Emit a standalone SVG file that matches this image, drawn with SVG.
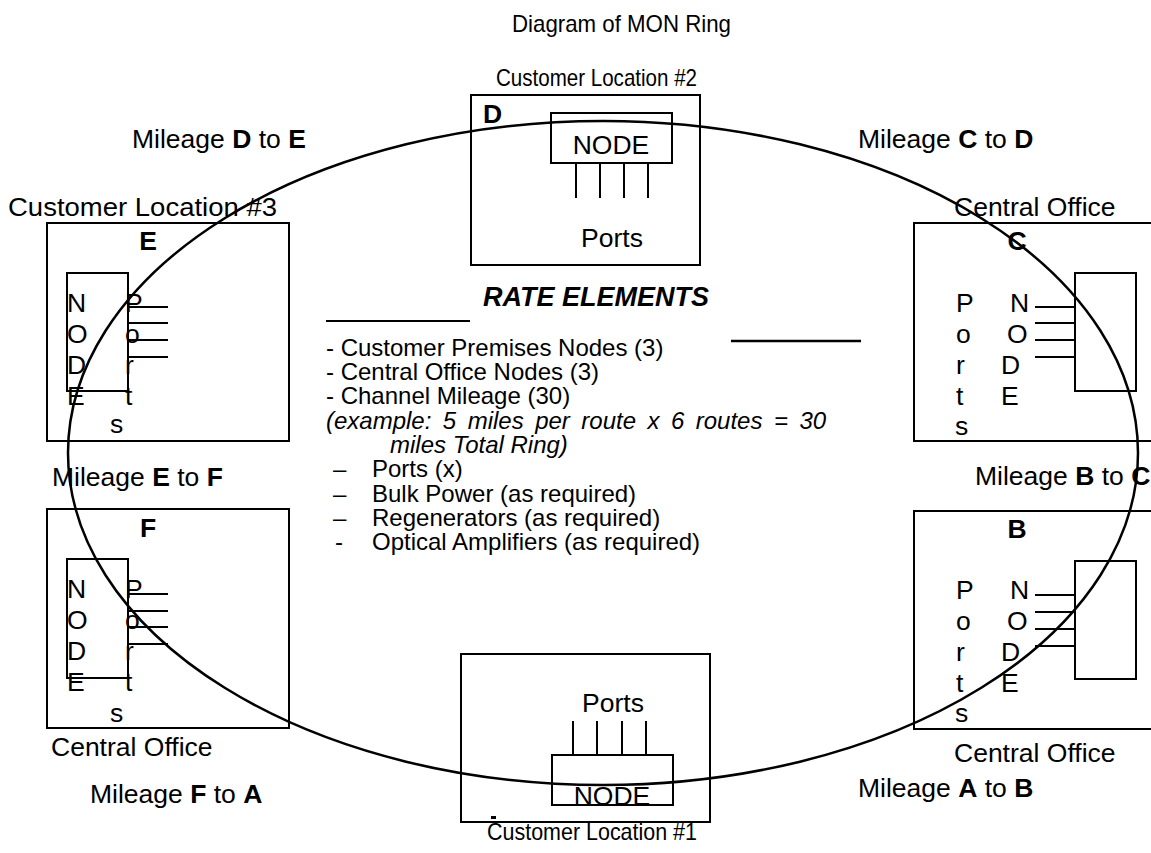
<svg xmlns="http://www.w3.org/2000/svg" width="1151" height="853" viewBox="0 0 1151 853">
<style>
text{font-family:"Liberation Sans",Arial,sans-serif;font-size:26.5px;fill:#000}
.b{font-weight:bold}
.bi{font-weight:bold;font-style:italic;font-size:27px}
.l{font-size:24px}
.it{font-size:24px;font-style:italic}
.cd{font-size:24px}
.box{fill:none;stroke:#000;stroke-width:2}
.nd{fill:none;stroke:#000;stroke-width:2}
.pl{stroke:#000;stroke-width:2}
.ring{fill:none;stroke:#000;stroke-width:2.5}
</style>
<rect width="1151" height="853" fill="#fff"/>
<text class="cd" x="512" y="32" textLength="219" lengthAdjust="spacingAndGlyphs">Diagram of MON Ring</text>

<g id="node-D">
<text class="cd" x="496" y="86" textLength="201" lengthAdjust="spacingAndGlyphs">Customer Location #2</text>
<rect class="box" x="471" y="95" width="229" height="170"/>
<text class="b" x="483" y="123">D</text>
<rect class="nd" x="551" y="113" width="121" height="50"/>
<text x="611" y="154" text-anchor="middle">NODE</text>
<path class="pl" d="M576 163V198M600 163V198M624 163V198M648 163V198"/>
<text x="612" y="247" text-anchor="middle">Ports</text>
</g>

<g id="node-E">
<text x="8" y="216" textLength="269" lengthAdjust="spacingAndGlyphs">Customer Location #3</text>
<rect class="box" x="47" y="223" width="242" height="218"/>
<text class="b" x="148" y="250" text-anchor="middle">E</text>
<rect class="nd" x="67" y="273" width="61" height="118"/>
<path class="pl" d="M128 307H168M128 323H168M128 340H168M128 357H168"/>
<text x="67" y="312">N</text><text x="67" y="343">O</text><text x="67" y="374">D</text><text x="67" y="405">E</text>
<text x="125" y="312">P</text><text x="125" y="343">o</text><text x="125" y="374">r</text><text x="125" y="405">t</text><text x="110" y="433">s</text>
</g>

<g id="node-C">
<text x="954" y="216">Central Office</text>
<rect class="box" x="914" y="223" width="250" height="218"/>
<text class="b" x="1017" y="250" text-anchor="middle">C</text>
<rect class="nd" x="1075" y="273" width="61" height="118"/>
<path class="pl" d="M1035 307H1075M1035 323H1075M1035 340H1075M1035 357H1075"/>
<text x="956" y="312">P</text><text x="956" y="343">o</text><text x="956" y="374">r</text><text x="956" y="405">t</text><text x="955" y="435">s</text>
<text x="1010" y="312">N</text><text x="1007" y="343">O</text><text x="1001" y="374">D</text><text x="1001" y="405">E</text>
</g>

<g id="node-F">
<rect class="box" x="47" y="509" width="242" height="219"/>
<text class="b" x="148" y="537" text-anchor="middle">F</text>
<rect class="nd" x="67" y="559" width="61" height="119"/>
<path class="pl" d="M128 594H168M128 611H168M128 627H168M128 644H168"/>
<text x="67" y="598">N</text><text x="67" y="629">O</text><text x="67" y="660">D</text><text x="67" y="691">E</text>
<text x="125" y="598">P</text><text x="125" y="629">o</text><text x="125" y="660">r</text><text x="125" y="691">t</text><text x="110" y="722">s</text>
<text x="51" y="756">Central Office</text>
</g>

<g id="node-B">
<rect class="box" x="914" y="511" width="250" height="218"/>
<text class="b" x="1017" y="538" text-anchor="middle">B</text>
<rect class="nd" x="1075" y="561" width="61" height="118"/>
<path class="pl" d="M1035 595H1075M1035 612H1075M1035 629H1075M1035 646H1075"/>
<text x="956" y="599">P</text><text x="956" y="630">o</text><text x="956" y="661">r</text><text x="956" y="692">t</text><text x="955" y="722">s</text>
<text x="1010" y="599">N</text><text x="1007" y="630">O</text><text x="1001" y="661">D</text><text x="1001" y="692">E</text>
<text x="954" y="762">Central Office</text>
</g>

<g id="node-A">
<rect class="box" x="461" y="654" width="249" height="168"/>
<text x="613" y="712" text-anchor="middle">Ports</text>
<path class="pl" d="M573 721V755M597 721V755M622 721V755M646 721V755"/>
<rect class="nd" x="552" y="755" width="121" height="50"/>
<text x="612" y="805" text-anchor="middle">NODE</text>
<rect x="491" y="816" width="5" height="3" fill="#000"/>
<text class="cd" x="487" y="840" textLength="210" lengthAdjust="spacingAndGlyphs">Customer Location #1</text>
</g>

<g id="connectors">
<ellipse class="ring" cx="603" cy="453" rx="535" ry="332"/>
</g>

<g id="mileage-labels">
<text x="132" y="148">Mileage <tspan class="b">D</tspan> to <tspan class="b">E</tspan></text>
<text x="858" y="148">Mileage <tspan class="b">C</tspan> to <tspan class="b">D</tspan></text>
<text x="52" y="486">Mileage <tspan class="b">E</tspan> to <tspan class="b">F</tspan></text>
<text x="975" y="485">Mileage <tspan class="b">B</tspan> to <tspan class="b">C</tspan></text>
<text x="90" y="803">Mileage <tspan class="b">F</tspan> to <tspan class="b">A</tspan></text>
<text x="858" y="797">Mileage <tspan class="b">A</tspan> to <tspan class="b">B</tspan></text>
</g>

<g id="rate-elements">
<path class="pl" d="M326 321H470"/>
<path d="M731 341H861" stroke="#000" stroke-width="2.5"/>
<text class="bi" x="483" y="306">RATE ELEMENTS</text>
<text class="l" x="326" y="356">- Customer Premises Nodes (3)</text>
<text class="l" x="326" y="380">- Central Office Nodes (3)</text>
<text class="l" x="326" y="404">- Channel Mileage (30)</text>
<text class="it" x="326" y="429" word-spacing="4.8">(example: 5 miles per route x 6 routes = 30</text>
<text class="it" x="390" y="453">miles Total Ring)</text>
<text class="l" x="333" y="477">–</text><text class="l" x="372" y="477">Ports (x)</text>
<text class="l" x="333" y="502">–</text><text class="l" x="372" y="502">Bulk Power (as required)</text>
<text class="l" x="333" y="526">–</text><text class="l" x="372" y="526">Regenerators (as required)</text>
<text class="l" x="335" y="550">-</text><text class="l" x="372" y="550">Optical Amplifiers (as required)</text>
</g>
</svg>
